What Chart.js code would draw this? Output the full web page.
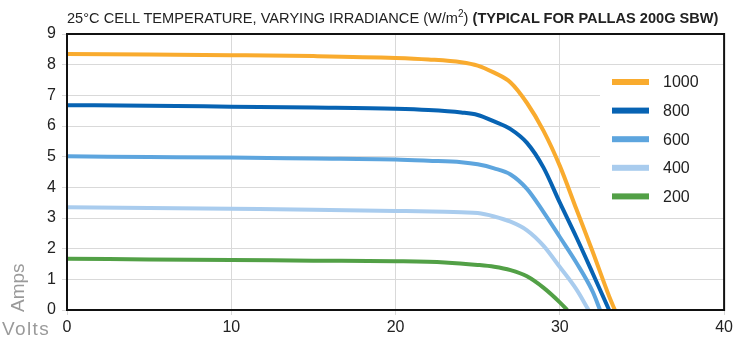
<!DOCTYPE html>
<html>
<head>
<meta charset="utf-8">
<script src="https://cdn.jsdelivr.net/npm/chart.js@4"></script>
<style>
  body { margin: 0; background: #fff; }
  #wrap { position: relative; width: 736px; height: 341px; font-family: 'Liberation Sans', Arial, sans-serif; }
  #chart { position: absolute; left: 0; top: 0; }
  .title { position: absolute; left: 67px; top: 8px; font-size: 14.6px; color: #222; white-space: nowrap; }
  .title sup { font-size: 10px; }
  .amps { position: absolute; left: 7px; top: 312px; font-size: 19px; color: #9a9a9a; transform: rotate(-90deg); transform-origin: left top; white-space: nowrap; }
  .volts { position: absolute; left: 2px; top: 318px; font-size: 19px; letter-spacing: 1.4px; color: #9a9a9a; }
</style>
</head>
<body>
<div id="wrap">
  <canvas id="chart" width="736" height="341"></canvas>
  <div class="title">25°C CELL TEMPERATURE, VARYING IRRADIANCE (W/m<sup>2</sup>) <b>(TYPICAL FOR PALLAS 200G SBW)</b></div>
  <div class="amps">Amps</div>
  <div class="volts">Volts</div>
</div>
<script>
// 輻照度（W/m²）
const irradiance = ['1000', '800', '600', '400', '200'];
const lineColors = ['#F9AB2E', '#0763B3', '#5DA5DE', '#A9CCEE', '#52A046'];

// 電壓（V）與電流（A）
const v1000 = [0, 5, 10, 15, 20, 22, 24, 25, 26, 27, 28, 29, 30, 31, 32, 33, 33.35];
const i1000 = [8.35, 8.33, 8.31, 8.28, 8.22, 8.17, 8.08, 7.97, 7.74, 7.42, 6.75, 5.85, 4.7, 3.3, 1.9, 0.45, 0];
const v800 = [0, 5, 10, 15, 20, 22, 24, 25, 26, 27, 28, 29, 30, 31, 32, 33];
const i800 = [6.68, 6.66, 6.63, 6.6, 6.56, 6.52, 6.44, 6.36, 6.15, 5.9, 5.45, 4.65, 3.5, 2.38, 1.2, 0];
const v600 = [0, 5, 10, 15, 20, 22, 24, 25, 26, 27, 28, 29, 30, 31, 32, 32.45];
const i600 = [5.01, 4.99, 4.97, 4.94, 4.91, 4.87, 4.82, 4.75, 4.62, 4.42, 3.95, 3.2, 2.38, 1.55, 0.6, 0];
const v400 = [0, 5, 10, 15, 20, 23, 25, 26, 27, 28, 29, 30, 31, 31.75];
const i400 = [3.35, 3.33, 3.3, 3.27, 3.23, 3.2, 3.16, 3.05, 2.88, 2.6, 2.1, 1.4, 0.68, 0];
const v200 = [0, 5, 10, 15, 20, 23, 25, 26, 27, 28, 29, 30, 30.45];
const i200 = [1.67, 1.65, 1.63, 1.61, 1.59, 1.55, 1.47, 1.41, 1.3, 1.1, 0.73, 0.25, 0];

const xTicks = [0, 10, 20, 30, 40];
const yTicks = [0, 1, 2, 3, 4, 5, 6, 7, 8, 9];

const voltSets = [v1000, v800, v600, v400, v200];
const ampSets = [i1000, i800, i600, i400, i200];

function toPoints(vs, is) {
    return vs.map((v, k) => ({ x: v, y: is[k] }));
}

const datasets = irradiance.map((name, k) => ({
    label: name,
    data: toPoints(voltSets[k], ampSets[k]),
    borderColor: lineColors[k],
    backgroundColor: lineColors[k],
    borderWidth: 4,
    pointRadius: 0,
    cubicInterpolationMode: 'monotone',
    fill: false
}));

// 圖內圖例（白底遮住格線）
const insideLegend = {
    id: 'insideLegend',
    beforeDatasetsDraw(chart) {
        const ctx = chart.ctx;
        ctx.save();
        ctx.fillStyle = '#fff';
        ctx.fillRect(600, 68, 127, 144);
        ctx.restore();
    },
    afterDatasetsDraw(chart) {
        const ctx = chart.ctx;
        const a = chart.chartArea;
        ctx.save();
        chart.data.datasets.forEach((ds, k) => {
            const y = 82 + k * 28.6;
            ctx.fillStyle = ds.borderColor;
            ctx.fillRect(612, y - 3, 37, 6);
            ctx.fillStyle = '#222';
            ctx.font = '16px "Liberation Sans", Arial, sans-serif';
            ctx.textBaseline = 'middle';
            ctx.fillText(ds.label, 663, y + 1);
        });
        // 外框
        ctx.strokeStyle = '#111';
        ctx.lineWidth = 2;
        ctx.strokeRect(a.left, a.top, a.right - a.left, a.bottom - a.top);
        ctx.restore();
    }
};

const tickFont = { family: "'Liberation Sans', Arial, sans-serif", size: 16 };

new Chart(document.getElementById('chart'), {
    type: 'line',
    data: { datasets: datasets },
    options: {
        responsive: false,
        animation: false,
        layout: { padding: { top: 34, right: 8, left: 0, bottom: 0 } },
        plugins: {
            legend: { display: false },
            tooltip: { enabled: false }
        },
        scales: {
            x: {
                type: 'linear',
                min: xTicks[0],
                max: xTicks[xTicks.length - 1],
                afterBuildTicks: s => { s.ticks = xTicks.map(v => ({ value: v })); },
                afterFit: s => { s.height = 31; },
                grid: { color: '#d9d9d9', tickLength: 5, tickColor: '#d9d9d9' },
                border: { display: false },
                ticks: { color: '#222', font: tickFont, padding: 3, maxRotation: 0 }
            },
            y: {
                min: yTicks[0],
                max: yTicks[yTicks.length - 1],
                afterBuildTicks: s => { s.ticks = yTicks.map(v => ({ value: v })); },
                afterFit: s => { s.width = 67; },
                grid: { color: '#d9d9d9', tickLength: 5, tickColor: '#d9d9d9' },
                border: { display: false },
                ticks: { color: '#222', font: tickFont, padding: 6 }
            }
        }
    },
    plugins: [insideLegend]
});
</script>
</body>
</html>
